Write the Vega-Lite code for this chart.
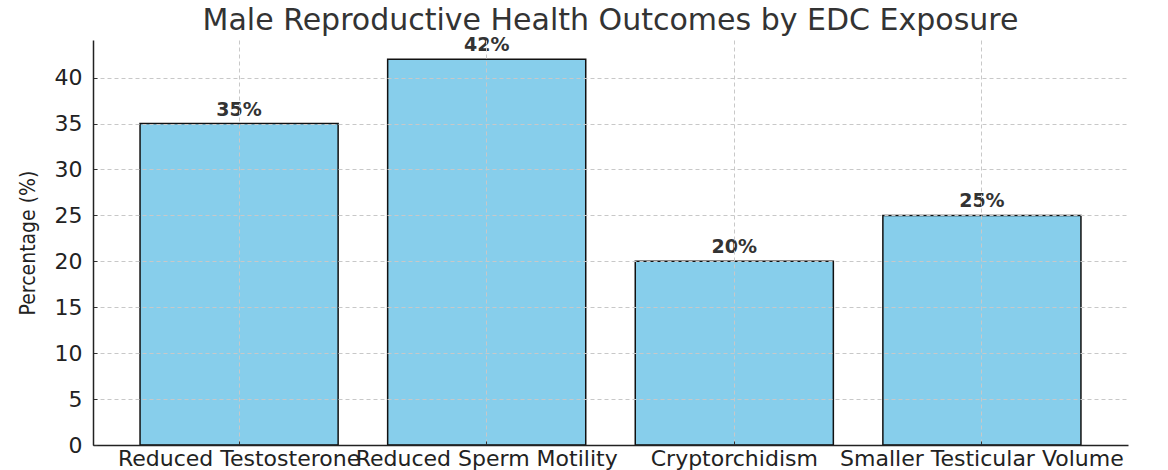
{
  "$schema": "https://vega.github.io/schema/vega-lite/v6.json",
  "autosize": "none",
  "width": 1035,
  "height": 405,
  "padding": {"left": 93, "top": 40, "right": 40, "bottom": 25},
  "background": "white",
  "view": {"stroke": null},
  "title": {
    "text": "Male Reproductive Health Outcomes by EDC Exposure",
    "font": "DejaVu Sans",
    "fontSize": 30,
    "fontWeight": "normal",
    "color": "#333333",
    "anchor": "middle",
    "offset": 0
  },
  "data": {
    "values": [
      {"outcome": "Reduced Testosterone", "pct": 35},
      {"outcome": "Reduced Sperm Motility", "pct": 42},
      {"outcome": "Cryptorchidism", "pct": 20},
      {"outcome": "Smaller Testicular Volume", "pct": 25}
    ]
  },
  "transform": [{"calculate": "datum.pct + '%'", "as": "label"}],
  "encoding": {
    "x": {
      "field": "outcome",
      "type": "nominal",
      "sort": null,
      "title": null,
      "scale": {"paddingInner": 0.2, "paddingOuter": 0.19},
      "axis": {
        "labelAngle": 0,
        "labelOverlap": false,
        "labelLimit": 0,
        "labelBound": false,
        "labelFont": "DejaVu Sans",
        "labelFontSize": 22,
        "labelColor": "#222222",
        "labelPadding": 7,
        "tickSize": -4,
        "tickColor": "#333333",
        "domainColor": "#222222",
        "domainWidth": 1.5,
        "grid": true,
        "gridColor": "#c8c8c8",
        "gridDash": [4, 3],
        "gridWidth": 1,
        "zindex": 1
      }
    },
    "y": {
      "field": "pct",
      "type": "quantitative",
      "title": "Percentage (%)",
      "scale": {"domain": [0, 44.1], "nice": false},
      "axis": {
        "values": [0, 5, 10, 15, 20, 25, 30, 35, 40],
        "labelFont": "DejaVu Sans",
        "labelFontSize": 22,
        "labelColor": "#222222",
        "labelPadding": 15,
        "tickSize": -4,
        "tickColor": "#333333",
        "domainColor": "#222222",
        "domainWidth": 1.5,
        "titleFont": "DejaVu Sans Condensed",
        "titleFontSize": 21,
        "titleFontWeight": "normal",
        "titleColor": "#222222",
        "titlePadding": 16,
        "grid": true,
        "gridColor": "#c8c8c8",
        "gridDash": [4, 3],
        "gridWidth": 1,
        "zindex": 1
      }
    }
  },
  "layer": [
    {
      "mark": {"type": "bar", "fill": "#87CEEB", "stroke": "#111111", "strokeWidth": 1.5}
    },
    {
      "mark": {
        "type": "text",
        "baseline": "alphabetic",
        "dy": -8,
        "font": "DejaVu Sans",
        "fontSize": 19,
        "fontWeight": "bold",
        "color": "#333333"
      },
      "encoding": {
        "text": {"field": "label", "type": "nominal"}
      }
    }
  ]
}
